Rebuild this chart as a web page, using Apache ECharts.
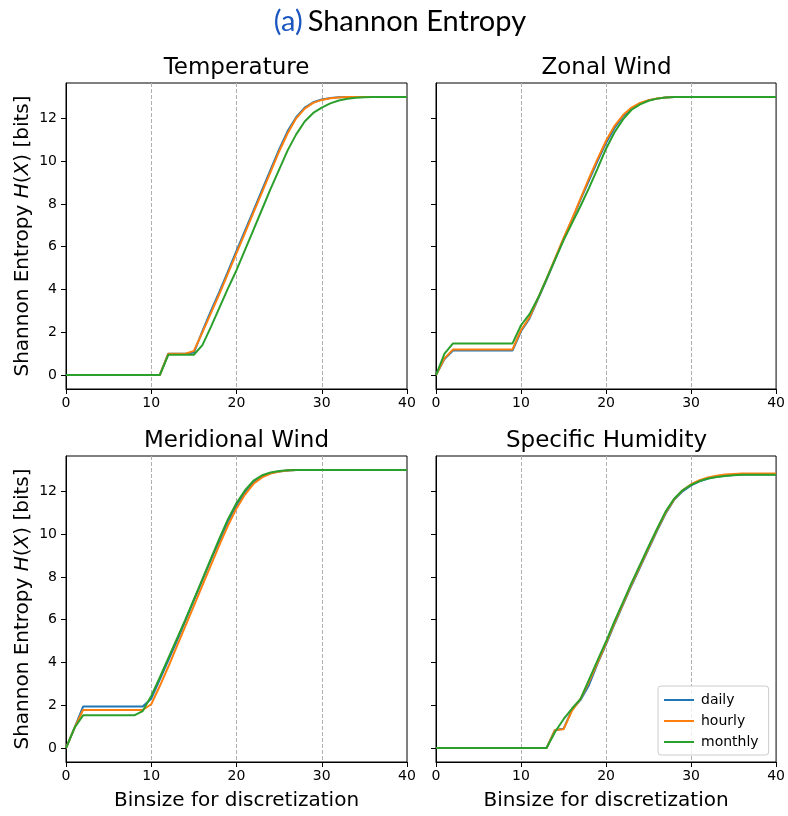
<!DOCTYPE html>
<html>
<head>
<meta charset="utf-8">
<script src="https://cdn.jsdelivr.net/npm/echarts@6/dist/echarts.min.js"></script>
<style>
  html, body { margin: 0; padding: 0; background: #fff; }
  #chart { width: 788px; height: 816px; }
</style>
</head>
<body>
<div id="chart"></div>
<script>
// Bin sizes used for discretization (x axis)
const binsizes = [0, 1, 2, 3, 4, 5, 6, 7, 8, 9, 10, 11, 12, 13, 14, 15, 16, 17, 18, 19, 20,
  21, 22, 23, 24, 25, 26, 27, 28, 29, 30, 31, 32, 33, 34, 35, 36, 37, 38, 39, 40];

const xTicks = [0, 10, 20, 30, 40];
const yTicks = [0, 2, 4, 6, 8, 10, 12];

const panelTitles = ['Temperature', 'Zonal Wind', 'Meridional Wind', 'Specific Humidity'];
const seriesNames = ['daily', 'hourly', 'monthly'];

// Shannon entropy H(X) in bits per bin size
const tempDaily = [0, 0, 0, 0, 0, 0, 0, 0, 0, 0, 0, 0, 1.0, 1.0, 1.0, 1.05, 2.05, 3.0, 3.9, 4.85, 5.8,
  6.75, 7.7, 8.65, 9.6, 10.55, 11.4, 12.05, 12.5, 12.75, 12.88, 12.95, 12.98, 12.99, 13, 13, 13, 13, 13, 13, 13];
const tempHourly = [0, 0, 0, 0, 0, 0, 0, 0, 0, 0, 0, 0, 1.0, 1.0, 1.0, 1.13, 2.0, 2.9, 3.8, 4.75, 5.7,
  6.65, 7.6, 8.55, 9.5, 10.45, 11.3, 12.0, 12.45, 12.72, 12.86, 12.94, 12.97, 12.99, 13, 13, 13, 13, 13, 13, 13];
const tempMonthly = [0, 0, 0, 0, 0, 0, 0, 0, 0, 0, 0, 0, 0.95, 0.95, 0.95, 0.95, 1.4, 2.25, 3.15, 4.05, 4.9,
  5.85, 6.8, 7.75, 8.7, 9.6, 10.5, 11.25, 11.85, 12.25, 12.5, 12.7, 12.83, 12.91, 12.96, 12.98, 13, 13, 13, 13, 13];

const zonalDaily = [0, 0.75, 1.15, 1.15, 1.15, 1.15, 1.15, 1.15, 1.15, 1.15, 2.05, 2.65, 3.55, 4.45, 5.4, 6.35, 7.25, 8.2, 9.1, 10.0, 10.85,
  11.55, 12.1, 12.45, 12.7, 12.84, 12.92, 12.97, 12.99, 13, 13, 13, 13, 13, 13, 13, 13, 13, 13, 13, 13];
const zonalHourly = [0, 0.78, 1.2, 1.2, 1.2, 1.2, 1.2, 1.2, 1.2, 1.2, 2.1, 2.7, 3.6, 4.5, 5.45, 6.4, 7.3, 8.25, 9.2, 10.1, 10.95,
  11.65, 12.15, 12.5, 12.72, 12.85, 12.93, 12.97, 12.99, 13, 13, 13, 13, 13, 13, 13, 13, 13, 13, 13, 13];
const zonalMonthly = [0, 1.0, 1.48, 1.48, 1.48, 1.48, 1.48, 1.48, 1.48, 1.48, 2.33, 2.85, 3.6, 4.5, 5.4, 6.3, 7.1, 7.9, 8.75, 9.65, 10.58,
  11.35, 11.95, 12.4, 12.65, 12.82, 12.92, 12.97, 12.99, 13, 13, 13, 13, 13, 13, 13, 13, 13, 13, 13, 13];

const meridDaily = [0, 0.95, 1.94, 1.94, 1.94, 1.94, 1.94, 1.94, 1.94, 1.94, 2.31, 3.2, 4.1, 5.0, 5.95, 6.9, 7.85, 8.8, 9.7, 10.6, 11.35,
  11.95, 12.42, 12.7, 12.85, 12.93, 12.97, 12.99, 13, 13, 13, 13, 13, 13, 13, 13, 13, 13, 13, 13, 13];
const meridHourly = [0, 0.95, 1.78, 1.78, 1.78, 1.78, 1.78, 1.78, 1.78, 1.78, 2.05, 2.9, 3.8, 4.75, 5.7, 6.65, 7.6, 8.55, 9.5, 10.4, 11.2,
  11.85, 12.35, 12.65, 12.83, 12.92, 12.97, 12.99, 13, 13, 13, 13, 13, 13, 13, 13, 13, 13, 13, 13, 13];
const meridMonthly = [0, 0.95, 1.53, 1.53, 1.53, 1.53, 1.53, 1.53, 1.53, 1.73, 2.44, 3.3, 4.2, 5.1, 6.0, 6.95, 7.9, 8.85, 9.8, 10.7, 11.45,
  12.05, 12.5, 12.75, 12.88, 12.95, 12.98, 13, 13, 13, 13, 13, 13, 13, 13, 13, 13, 13, 13, 13, 13];

const humidDaily = [0, 0, 0, 0, 0, 0, 0, 0, 0, 0, 0, 0, 0, 0, 0.85, 0.9, 1.8, 2.25, 2.95, 3.95, 4.85,
  5.8, 6.7, 7.6, 8.45, 9.3, 10.15, 10.95, 11.6, 12.0, 12.28, 12.47, 12.6, 12.68, 12.73, 12.76, 12.78, 12.78, 12.78, 12.78, 12.78];
const humidHourly = [0, 0, 0, 0, 0, 0, 0, 0, 0, 0, 0, 0, 0, 0, 0.85, 0.88, 1.75, 2.3, 3.1, 4.0, 4.9,
  5.85, 6.75, 7.65, 8.5, 9.35, 10.2, 11.0, 11.62, 12.05, 12.33, 12.52, 12.65, 12.73, 12.78, 12.81, 12.83, 12.83, 12.83, 12.83, 12.83];
const humidMonthly = [0, 0, 0, 0, 0, 0, 0, 0, 0, 0, 0, 0, 0, 0, 0.75, 1.35, 1.85, 2.3, 3.2, 4.1, 4.98,
  5.93, 6.82, 7.72, 8.57, 9.42, 10.25, 11.05, 11.65, 12.05, 12.3, 12.48, 12.6, 12.67, 12.72, 12.75, 12.77, 12.77, 12.77, 12.77, 12.77];

const panelData = [
  [tempDaily, tempHourly, tempMonthly],
  [zonalDaily, zonalHourly, zonalMonthly],
  [meridDaily, meridHourly, meridMonthly],
  [humidDaily, humidHourly, humidMonthly]
];

const colors = ['#1f77b4', '#ff7f0e', '#2ca02c'];
const FONT = 'DejaVu Sans';

// Panel layout (2 x 2)
const grids = [
  { left: 66, top: 83, width: 341, height: 306 },
  { left: 436, top: 83, width: 341, height: 306 },
  { left: 66, top: 456, width: 341, height: 306 },
  { left: 436, top: 456, width: 341, height: 306 }
];

const xAxes = grids.map((g, i) => ({
  type: 'value',
  gridIndex: i,
  min: 0,
  max: 40,
  interval: 10,
  name: i >= 2 ? 'Binsize for discretization' : '',
  nameLocation: 'middle',
  nameGap: 29,
  nameTextStyle: { fontFamily: FONT, fontSize: 20, color: '#000' },
  axisLine: { show: true, onZero: false, lineStyle: { color: '#000', width: 1 } },
  axisTick: { show: true, length: 5, lineStyle: { color: '#000', width: 1 }, customValues: xTicks },
  axisLabel: { fontFamily: FONT, fontSize: 14, color: '#000', margin: 7, customValues: xTicks },
  splitLine: {
    show: true, showMinLine: false, showMaxLine: false,
    lineStyle: { color: '#b0b0b0', type: [4, 2], width: 1 }
  }
}));

const yAxes = grids.map((g, i) => ({
  type: 'value',
  gridIndex: i,
  min: -0.65,
  max: 13.65,
  name: i % 2 === 0 ? '{n|Shannon Entropy }{i|H}{n|(}{i|X}{n|) [bits]}' : '',
  nameLocation: 'middle',
  nameGap: 33,
  nameTextStyle: {
    fontFamily: FONT, fontSize: 20, color: '#000',
    rich: {
      n: { fontFamily: FONT, fontSize: 20, color: '#000' },
      i: { fontFamily: FONT, fontSize: 20, color: '#000', fontStyle: 'italic' }
    }
  },
  axisLine: { show: true, onZero: false, lineStyle: { color: '#000', width: 1 } },
  axisTick: { show: true, length: 5, lineStyle: { color: '#000', width: 1 }, customValues: yTicks },
  axisLabel: {
    show: i % 2 === 0, fontFamily: FONT, fontSize: 14, color: '#000', margin: 9,
    customValues: yTicks
  },
  splitLine: { show: false }
}));

const series = [];
panelData.forEach((group, p) => {
  group.forEach((vals, k) => {
    series.push({
      name: seriesNames[k],
      type: 'line',
      xAxisIndex: p,
      yAxisIndex: p,
      data: binsizes.map((b, j) => [b, vals[j]]),
      showSymbol: false,
      symbol: 'none',
      lineStyle: { color: colors[k], width: 2 },
      itemStyle: { color: colors[k] },
      animation: false,
      z: 3 + k
    });
  });
});

const titles = [
  {
    text: '{a|(a)} {b|Shannon Entropy}',
    left: 400,
    textAlign: 'center',
    top: 7,
    padding: 0,
    textStyle: {
      fontWeight: 'normal',
      rich: {
        a: { fontFamily: 'Lato', fontSize: 29, fontWeight: 'normal', color: '#1a55c0' },
        b: { fontFamily: 'Lato', fontSize: 29, fontWeight: 'normal', color: '#000' }
      }
    }
  }
].concat(grids.map((g, i) => ({
  text: panelTitles[i],
  left: g.left + g.width / 2,
  textAlign: 'center',
  top: g.top - 26,
  padding: 0,
  textStyle: { fontFamily: FONT, fontSize: 23, fontWeight: 'normal', color: '#000' }
})));

const option = {
  backgroundColor: '#fff',
  animation: false,
  color: colors,
  title: titles,
  grid: grids.map(g => Object.assign({ show: true, borderColor: '#000', borderWidth: 1, backgroundColor: 'transparent' }, g)),
  xAxis: xAxes,
  yAxis: yAxes,
  legend: {
    data: seriesNames,
    orient: 'vertical',
    left: 658,
    top: 686,
    padding: [7, 10, 6, 6],
    itemGap: 7,
    itemWidth: 30,
    itemHeight: 2,
    icon: 'rect',
    backgroundColor: 'rgba(255,255,255,0.8)',
    borderColor: '#cccccc',
    borderWidth: 1,
    borderRadius: 3,
    textStyle: { fontFamily: FONT, fontSize: 14, color: '#000', padding: [0, 0, 0, 2] }
  },
  series: series
};

const chart = echarts.init(document.getElementById('chart'), null, { renderer: 'canvas' });
chart.setOption(option);
</script>
</body>
</html>
